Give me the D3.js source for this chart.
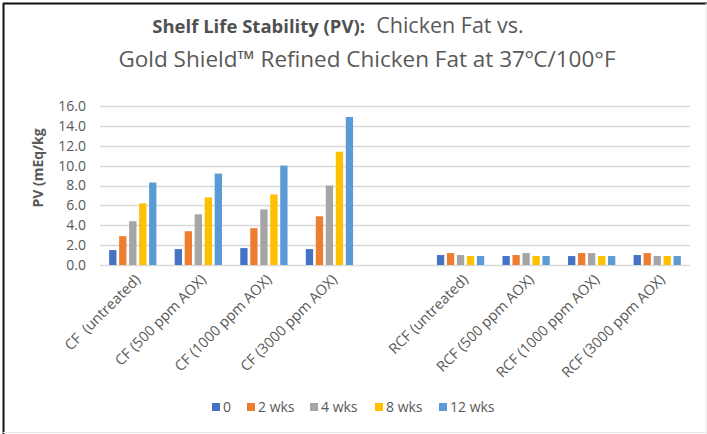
<!DOCTYPE html>
<html>
<head>
<meta charset="utf-8">
<script src="https://cdn.jsdelivr.net/npm/d3@7"></script>
<style>
  body { margin: 0; background: #fff; }
  svg { display: block; font-family: "Open Sans", sans-serif; }
  .xlab { white-space: pre; }
</style>
</head>
<body>
<svg id="chart" width="707" height="434"></svg>
<script>
// categories along the x axis (a blank slot sits between the two groups)
const categories = ["CF  (untreated)", "CF (500 ppm AOX)", "CF (1000 ppm AOX)", "CF (3000 ppm AOX)",
                    "RCF (untreated)", "RCF (500 ppm AOX)", "RCF (1000 ppm AOX)", "RCF (3000 ppm AOX)"];
const seriesNames = ["0", "2 wks", "4 wks", "8 wks", "12 wks"];
const wk0  = [1.5, 1.6, 1.7, 1.6, 1.0, 0.9, 0.9, 1.0];
const wk2  = [2.9, 3.4, 3.7, 4.9, 1.2, 1.0, 1.2, 1.2];
const wk4  = [4.4, 5.1, 5.6, 8.0, 1.0, 1.2, 1.2, 0.9];
const wk8  = [6.2, 6.8, 7.1, 11.4, 0.9, 0.9, 0.9, 0.9];
const wk12 = [8.3, 9.2, 10.0, 14.9, 0.9, 0.9, 0.9, 0.9];
const yTicks = [0, 2, 4, 6, 8, 10, 12, 14, 16];

const seriesValues = [wk0, wk2, wk4, wk8, wk12];
const colors = ["#4472C4", "#ED7D31", "#A5A5A5", "#FFC000", "#5B9BD5"];

const svg = d3.select("#chart");

// frame of the screenshot
svg.append("line").attr("x1", 3.5).attr("x2", 3.5).attr("y1", 3).attr("y2", 434)
    .attr("stroke", "#111").attr("stroke-width", 2);
svg.append("line").attr("x1", 3).attr("x2", 707).attr("y1", 3.5).attr("y2", 3.5)
    .attr("stroke", "#111").attr("stroke-width", 2);
svg.append("line").attr("x1", 706).attr("x2", 706).attr("y1", 3).attr("y2", 434)
    .attr("stroke", "#e6e6e6").attr("stroke-width", 1);
svg.append("line").attr("x1", 3).attr("x2", 707).attr("y1", 432.5).attr("y2", 432.5)
    .attr("stroke", "#e6e6e6").attr("stroke-width", 1);

// title
const title = svg.append("text").attr("text-anchor", "middle").attr("fill", "#595959");
const t1 = title.append("tspan").attr("x", 338).attr("y", 33);
t1.append("tspan").attr("font-weight", "bold").attr("fill", "#505050")
    .style("font-size", "18.5px").text("Shelf Life Stability (PV):");
t1.append("tspan").style("font-size", "21.5px").text("\u00a0 Chicken Fat vs.");
title.append("tspan").attr("x", 367).attr("y", 67).style("font-size", "22.5px")
    .text("Gold Shield\u2122 Refined Chicken Fat at 37\u00baC/100\u00b0F");

// scales
const domain = categories.slice(0, 4).concat(["__gap"], categories.slice(4));
const x0 = d3.scaleBand().domain(domain).range([100, 690]).padding(0);
const x1 = d3.scaleBand().domain(seriesNames).range([0, x0.bandwidth()])
    .paddingInner(0.27).paddingOuter(0.915);
const y = d3.scaleLinear().domain([0, 16]).range([265, 106]);

// grid lines
svg.append("g").selectAll("line").data(yTicks).join("line")
    .attr("x1", 100).attr("x2", 690)
    .attr("y1", d => Math.round(y(d)) + 0.5).attr("y2", d => Math.round(y(d)) + 0.5)
    .attr("stroke", "#d9d9d9").attr("stroke-width", 1.5);

// y axis labels
const yAxis = svg.append("g").attr("transform", "translate(86,0)")
    .call(d3.axisLeft(y).tickValues(yTicks).tickFormat(d3.format(".1f")).tickSize(0).tickPadding(0));
yAxis.select(".domain").remove();
yAxis.selectAll("text").attr("fill", "#595959").style("font-size", "14px")
    .style("font-family", "'Open Sans', sans-serif");

svg.append("text")
    .attr("transform", "translate(38,168) rotate(-90)")
    .attr("text-anchor", "middle").attr("dy", "0.35em").attr("fill", "#595959")
    .attr("font-weight", "bold").style("font-size", "14px")
    .text("PV (mEq/kg");

// bars
const rows = categories.map((c, i) => ({ cat: c, vals: seriesValues.map(s => s[i]) }));
svg.append("g").selectAll("g").data(rows).join("g")
    .attr("transform", d => `translate(${x0(d.cat)},0)`)
    .selectAll("rect").data(d => d.vals.map((v, j) => ({ key: seriesNames[j], v, j })))
    .join("rect")
    .attr("x", d => x1(d.key))
    .attr("width", x1.bandwidth())
    .attr("y", d => y(d.v))
    .attr("height", d => y(0) - y(d.v))
    .attr("fill", d => colors[d.j]);

// x labels
svg.append("g").selectAll("text").data(categories).join("text")
    .attr("class", "xlab")
    .attr("transform", d => `translate(${x0(d) + x0.bandwidth() / 2 + 5},277) rotate(-45)`)
    .attr("text-anchor", "end").attr("dy", "0.35em")
    .attr("fill", "#595959").style("font-size", "14.5px")
    .text(d => d);

// legend
const legendX = [212, 247, 310, 375, 439];
const legend = svg.append("g").selectAll("g").data(seriesNames).join("g")
    .attr("transform", (d, i) => `translate(${legendX[i]},407)`);
legend.append("rect").attr("x", 0).attr("y", -4).attr("width", 8).attr("height", 8)
    .attr("fill", (d, i) => colors[i]);
legend.append("text").attr("x", 11).attr("dy", "0.35em").attr("fill", "#595959")
    .style("font-size", "14px")
    .text(d => d);
</script>
</body>
</html>
